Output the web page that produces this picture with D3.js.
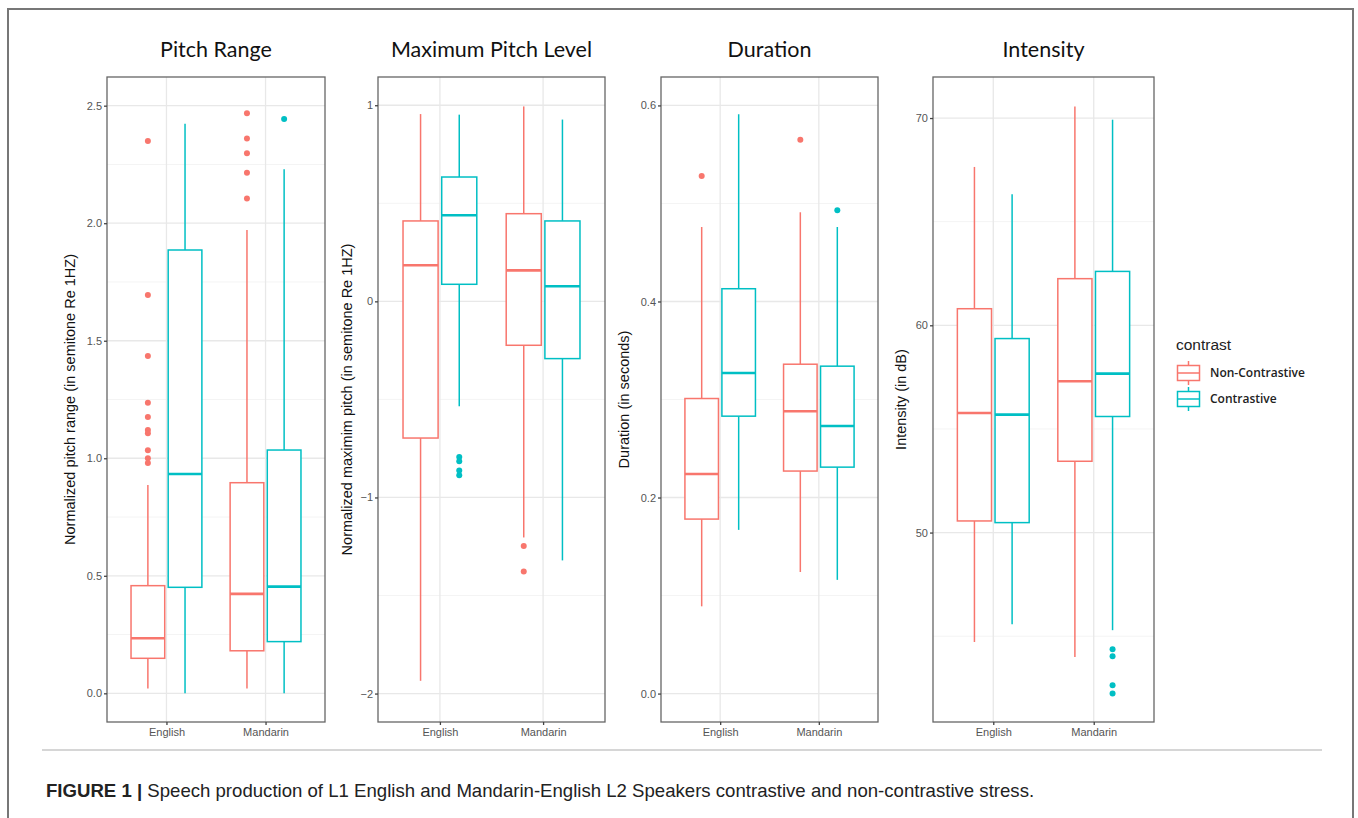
<!DOCTYPE html>
<html lang="en">
  <head>
    <meta charset="UTF-8" />
    <title>Speech production boxplots</title>
    <script src="https://d3js.org/d3.v7.min.js"></script>
    <style>
      body {
        margin: 0;
        background: #fff;
      }
      .tick text {
        font-family: "Liberation Sans", Arial, sans-serif;
        font-size: 11px;
        fill: #555;
      }
      .tick line {
        stroke: #444;
      }
      .panel-title {
        font-family: Lato, "Open Sans", sans-serif;
        font-size: 21.5px;
        fill: #111;
      }
      .y-title {
        font-family: "Liberation Sans", Arial, sans-serif;
        font-size: 14.5px;
        fill: #111;
      }
    </style>
  </head>
  <body>
    <svg width="1358" height="818"></svg>

    <script>
      const languages = ["English", "Mandarin"];
      const contrasts = ["Non-Contrastive", "Contrastive"];
      const colors = ["#F8766D", "#00BFC4"];

      const panelTitles = ["Pitch Range", "Maximum Pitch Level", "Duration", "Intensity"];
      const yTitles = [
        "Normalized pitch range (in semitone Re 1HZ)",
        "Normalized maximim pitch (in semitone Re 1HZ)",
        "Duration (in seconds)",
        "Intensity (in dB)",
      ];

      // axis limits and breaks
      const yDomains = [[-0.122, 2.622], [-2.145, 1.144], [-0.029, 0.629], [40.86, 71.98]];
      const majorTicks = [
        [0, 0.5, 1, 1.5, 2, 2.5],
        [-2, -1, 0, 1],
        [0, 0.2, 0.4, 0.6],
        [50, 60, 70],
      ];
      const minorTicks = [
        [0.25, 0.75, 1.25, 1.75, 2.25],
        [-1.5, -0.5, 0.5],
        [0.1, 0.3, 0.5],
        [45, 55, 65],
      ];
      const tickFormats = [".1f", "d", ".1f", "d"];

      // [lower whisker, Q1, median, Q3, upper whisker]
      // order: English NC, English C, Mandarin NC, Mandarin C
      const pitchRangeBox = [
        [0.021, 0.149, 0.234, 0.458, 0.886],
        [0.0, 0.451, 0.933, 1.886, 2.423],
        [0.021, 0.181, 0.423, 0.896, 1.971],
        [0.0, 0.22, 0.454, 1.035, 2.23],
      ];
      const pitchRangeOut = [
        [2.35, 1.695, 1.435, 1.236, 1.176, 1.12, 1.106, 1.034, 1.0, 0.98],
        [],
        [2.468, 2.36, 2.298, 2.215, 2.105],
        [2.443],
      ];

      const maxPitchBox = [
        [-1.935, -0.697, 0.184, 0.41, 0.955],
        [-0.535, 0.087, 0.439, 0.634, 0.952],
        [-1.204, -0.224, 0.158, 0.447, 0.994],
        [-1.321, -0.292, 0.077, 0.41, 0.927],
      ];
      const maxPitchOut = [[], [-0.794, -0.815, -0.862, -0.887], [-1.247, -1.378], []];

      const durationBox = [
        [0.089, 0.178, 0.224, 0.301, 0.476],
        [0.167, 0.283, 0.327, 0.413, 0.591],
        [0.124, 0.227, 0.288, 0.336, 0.491],
        [0.116, 0.231, 0.273, 0.334, 0.476],
      ];
      const durationOut = [[0.528], [], [0.565], [0.493]];

      const intensityBox = [
        [44.72, 50.56, 55.77, 60.8, 67.64],
        [45.58, 50.48, 55.69, 59.36, 66.32],
        [44.0, 53.44, 57.3, 62.25, 70.56],
        [45.29, 55.6, 57.67, 62.6, 69.92],
      ];
      const intensityOut = [[], [], [], [44.37, 44.03, 42.63, 42.23]];

      const boxData = [pitchRangeBox, maxPitchBox, durationBox, intensityBox];
      const outData = [pitchRangeOut, maxPitchOut, durationOut, intensityOut];

      const svg = d3.select("svg");

      // outer frame of the figure
      svg.append("rect")
        .attr("x", 8).attr("y", 9)
        .attr("width", 1345).attr("height", 830)
        .attr("fill", "#fff")
        .attr("stroke", "#777")
        .attr("stroke-width", 2);

      const panelTop = 77;
      const panelBottom = 722;
      const panels = [
        { left: 107, right: 325, yTitleGap: 37 },
        { left: 378, right: 605, yTitleGap: 31 },
        { left: 661, right: 878, yTitleGap: 37 },
        { left: 933, right: 1154, yTitleGap: 32 },
      ];
      const dodge = 0.1875;
      const halfBox = 0.17;

      panels.forEach((p, k) => {
        const g = svg.append("g");
        const x = d3.scaleLinear().domain([0.4, 2.6]).range([p.left, p.right]);
        const y = d3.scaleLinear().domain(yDomains[k]).range([panelBottom, panelTop]);

        // grid
        g.append("g").selectAll("line").data(minorTicks[k]).join("line")
          .attr("x1", p.left).attr("x2", p.right)
          .attr("y1", (d) => y(d)).attr("y2", (d) => y(d))
          .attr("stroke", "#f4f4f4").attr("stroke-width", 1);
        g.append("g").selectAll("line").data(majorTicks[k]).join("line")
          .attr("x1", p.left).attr("x2", p.right)
          .attr("y1", (d) => y(d)).attr("y2", (d) => y(d))
          .attr("stroke", "#e8e8e8").attr("stroke-width", 1.3);
        g.append("g").selectAll("line").data(languages).join("line")
          .attr("x1", (d, i) => x(i + 1)).attr("x2", (d, i) => x(i + 1))
          .attr("y1", panelTop).attr("y2", panelBottom)
          .attr("stroke", "#e8e8e8").attr("stroke-width", 1.3);

        // boxes
        const groups = boxData[k].map((s, i) => ({
          s,
          out: outData[k][i],
          c: i % 2,
          cx: x(Math.floor(i / 2) + 1 + (i % 2 === 0 ? -dodge : dodge)),
        }));
        const hw = x(halfBox) - x(0);
        const bx = g.append("g").selectAll("g").data(groups).join("g");
        bx.append("line")
          .attr("x1", (d) => d.cx).attr("x2", (d) => d.cx)
          .attr("y1", (d) => y(d.s[3])).attr("y2", (d) => y(d.s[4]))
          .attr("stroke", (d) => colors[d.c]).attr("stroke-width", 1.5);
        bx.append("line")
          .attr("x1", (d) => d.cx).attr("x2", (d) => d.cx)
          .attr("y1", (d) => y(d.s[0])).attr("y2", (d) => y(d.s[1]))
          .attr("stroke", (d) => colors[d.c]).attr("stroke-width", 1.5);
        bx.append("rect")
          .attr("x", (d) => d.cx - hw).attr("width", 2 * hw)
          .attr("y", (d) => y(d.s[3])).attr("height", (d) => y(d.s[1]) - y(d.s[3]))
          .attr("fill", "#fff")
          .attr("stroke", (d) => colors[d.c]).attr("stroke-width", 1.5);
        bx.append("line")
          .attr("x1", (d) => d.cx - hw).attr("x2", (d) => d.cx + hw)
          .attr("y1", (d) => y(d.s[2])).attr("y2", (d) => y(d.s[2]))
          .attr("stroke", (d) => colors[d.c]).attr("stroke-width", 2.6);
        bx.selectAll("circle").data((d) => d.out.map((v) => ({ v, d }))).join("circle")
          .attr("cx", (o) => o.d.cx).attr("cy", (o) => y(o.v))
          .attr("r", 3).attr("fill", (o) => colors[o.d.c]);

        // panel border
        g.append("rect")
          .attr("x", p.left).attr("y", panelTop)
          .attr("width", p.right - p.left).attr("height", panelBottom - panelTop)
          .attr("fill", "none").attr("stroke", "#666").attr("stroke-width", 1.3);

        // axes
        const ya = g.append("g")
          .attr("transform", `translate(${p.left},0)`)
          .call(d3.axisLeft(y).tickValues(majorTicks[k]).tickFormat(d3.format(tickFormats[k])).tickSize(3).tickPadding(2));
        ya.select(".domain").remove();
        const xa = g.append("g")
          .attr("transform", `translate(0,${panelBottom})`)
          .call(d3.axisBottom(x).tickValues([1, 2]).tickFormat((d) => languages[d - 1]).tickSize(3).tickPadding(3));
        xa.select(".domain").remove();
        g.selectAll(".tick line").attr("stroke-width", 1.3);

        // titles
        g.append("text")
          .attr("class", "panel-title")
          .attr("x", (p.left + p.right) / 2)
          .attr("y", 57)
          .attr("text-anchor", "middle")
          .text(panelTitles[k]);
        g.append("text")
          .attr("class", "y-title")
          .attr("transform", `translate(${p.left - p.yTitleGap},${(panelTop + panelBottom) / 2}) rotate(-90)`)
          .attr("text-anchor", "middle")
          .attr("dy", "0.35em")
          .text(yTitles[k]);
      });

      // legend
      const legend = svg.append("g").attr("transform", "translate(1176,0)");
      legend.append("text")
        .attr("x", 0).attr("y", 350)
        .attr("font-family", "'Liberation Sans', Arial, sans-serif")
        .attr("font-size", 15.5)
        .attr("fill", "#222")
        .text("contrast");
      const keys = legend.selectAll("g.key").data(contrasts).join("g")
        .attr("class", "key")
        .attr("transform", (d, i) => `translate(0,${373 + i * 26})`);
      keys.append("line")
        .attr("x1", 12.5).attr("x2", 12.5).attr("y1", -12).attr("y2", 12)
        .attr("stroke", (d, i) => colors[i]).attr("stroke-width", 1.5);
      keys.append("rect")
        .attr("x", 1.5).attr("y", -7.5).attr("width", 22).attr("height", 15)
        .attr("fill", "#fff")
        .attr("stroke", (d, i) => colors[i]).attr("stroke-width", 1.5);
      keys.append("line")
        .attr("x1", 1.5).attr("x2", 23.5).attr("y1", 0).attr("y2", 0)
        .attr("stroke", (d, i) => colors[i]).attr("stroke-width", 1.5);
      keys.append("text")
        .attr("x", 34).attr("y", 0).attr("dy", "0.35em")
        .attr("font-family", "'Open Sans', sans-serif")
        .attr("font-size", 12)
        .attr("font-weight", 600)
        .attr("fill", "#222")
        .text((d) => d);

      // separator and caption
      svg.append("line")
        .attr("x1", 42).attr("x2", 1322).attr("y1", 750).attr("y2", 750)
        .attr("stroke", "#d6d6d6").attr("stroke-width", 2);

      const caption = svg.append("text")
        .attr("x", 46).attr("y", 797)
        .attr("font-family", "'Liberation Sans Narrow', 'Liberation Sans', Arial, sans-serif")
        .attr("font-size", 18.6)
        .attr("fill", "#222");
      caption.append("tspan").attr("font-weight", "bold").text("FIGURE 1 | ");
      caption.append("tspan").text("Speech production of L1 English and Mandarin-English L2 Speakers contrastive and non-contrastive stress.");
    </script>
  </body>
</html>
